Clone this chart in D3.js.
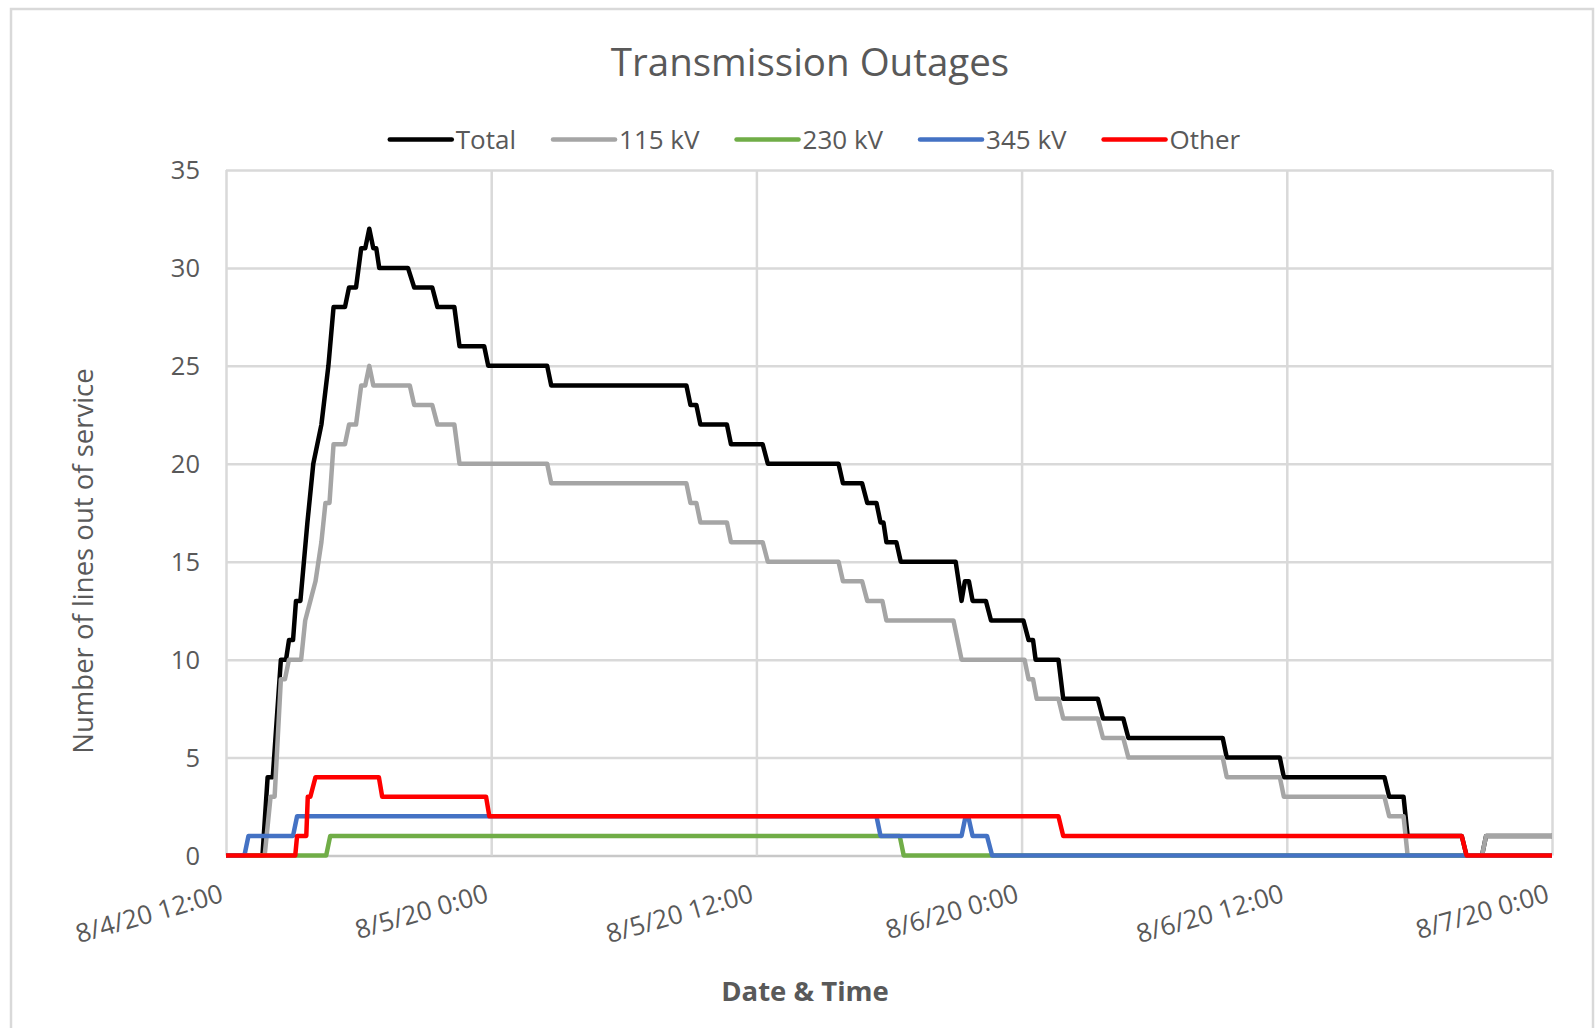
<!DOCTYPE html>
<html>
<head>
<meta charset="utf-8">
<script src="https://cdn.jsdelivr.net/npm/d3@7"></script>
<style>
  body { margin: 0; background: #fff; }
  text { font-family: "Open Sans", sans-serif; fill: #595959; }
</style>
</head>
<body>
<svg id="chart" width="1595" height="1028"></svg>
<script>
"use strict";

// Data
var seriesNames = ["Total", "115 kV", "230 kV", "345 kV", "Other"];
var seriesColours = ["#000000", "#a5a5a5", "#70ad47", "#4472c4", "#ff0000"];

var totalData = [
  ["8/4/20 12:00", 0], ["8/4/20 13:39", 0], ["8/4/20 13:53", 4], ["8/4/20 14:07", 4],
  ["8/4/20 14:29", 10], ["8/4/20 14:43", 10], ["8/4/20 14:51", 11], ["8/4/20 15:02", 11],
  ["8/4/20 15:10", 13], ["8/4/20 15:22", 13], ["8/4/20 15:41", 17], ["8/4/20 15:57", 20],
  ["8/4/20 16:19", 22], ["8/4/20 16:38", 25], ["8/4/20 16:52", 28], ["8/4/20 17:23", 28],
  ["8/4/20 17:34", 29], ["8/4/20 17:53", 29], ["8/4/20 18:07", 31], ["8/4/20 18:18", 31],
  ["8/4/20 18:29", 32], ["8/4/20 18:40", 31], ["8/4/20 18:48", 31], ["8/4/20 18:56", 30],
  ["8/4/20 20:14", 30], ["8/4/20 20:31", 29], ["8/4/20 21:20", 29], ["8/4/20 21:34", 28],
  ["8/4/20 22:20", 28], ["8/4/20 22:34", 26], ["8/4/20 23:41", 26], ["8/4/20 23:52", 25],
  ["8/5/20 2:32", 25], ["8/5/20 2:43", 24], ["8/5/20 8:50", 24], ["8/5/20 9:01", 23],
  ["8/5/20 9:17", 23], ["8/5/20 9:28", 22], ["8/5/20 10:40", 22], ["8/5/20 10:51", 21],
  ["8/5/20 12:17", 21], ["8/5/20 12:31", 20], ["8/5/20 15:43", 20], ["8/5/20 15:55", 19],
  ["8/5/20 16:47", 19], ["8/5/20 17:01", 18], ["8/5/20 17:26", 18], ["8/5/20 17:37", 17],
  ["8/5/20 17:45", 17], ["8/5/20 17:53", 16], ["8/5/20 18:20", 16], ["8/5/20 18:32", 15],
  ["8/5/20 21:01", 15], ["8/5/20 21:17", 13], ["8/5/20 21:26", 14], ["8/5/20 21:37", 14],
  ["8/5/20 21:47", 13], ["8/5/20 22:23", 13], ["8/5/20 22:37", 12], ["8/6/20 0:05", 12],
  ["8/6/20 0:19", 11], ["8/6/20 0:31", 11], ["8/6/20 0:38", 10], ["8/6/20 1:40", 10],
  ["8/6/20 1:53", 8], ["8/6/20 3:27", 8], ["8/6/20 3:41", 7], ["8/6/20 4:36", 7],
  ["8/6/20 4:50", 6], ["8/6/20 9:06", 6], ["8/6/20 9:17", 5], ["8/6/20 11:41", 5],
  ["8/6/20 11:52", 4], ["8/6/20 16:25", 4], ["8/6/20 16:38", 3], ["8/6/20 17:17", 3],
  ["8/6/20 17:28", 1], ["8/6/20 19:55", 1], ["8/6/20 20:08", 0], ["8/6/20 20:50", 0],
  ["8/6/20 21:01", 1], ["8/7/20 0:00", 1]
];

var kv115Data = [
  ["8/4/20 12:00", 0], ["8/4/20 13:45", 0], ["8/4/20 14:01", 3], ["8/4/20 14:12", 3],
  ["8/4/20 14:29", 9], ["8/4/20 14:40", 9], ["8/4/20 14:51", 10], ["8/4/20 15:24", 10],
  ["8/4/20 15:35", 12], ["8/4/20 15:49", 13], ["8/4/20 16:03", 14], ["8/4/20 16:19", 16],
  ["8/4/20 16:30", 18], ["8/4/20 16:41", 18], ["8/4/20 16:52", 21], ["8/4/20 17:23", 21],
  ["8/4/20 17:34", 22], ["8/4/20 17:53", 22], ["8/4/20 18:07", 24], ["8/4/20 18:18", 24],
  ["8/4/20 18:29", 25], ["8/4/20 18:40", 24], ["8/4/20 20:19", 24], ["8/4/20 20:31", 23],
  ["8/4/20 21:20", 23], ["8/4/20 21:34", 22], ["8/4/20 22:20", 22], ["8/4/20 22:34", 20],
  ["8/5/20 2:32", 20], ["8/5/20 2:43", 19], ["8/5/20 8:50", 19], ["8/5/20 9:01", 18],
  ["8/5/20 9:17", 18], ["8/5/20 9:28", 17], ["8/5/20 10:40", 17], ["8/5/20 10:51", 16],
  ["8/5/20 12:17", 16], ["8/5/20 12:31", 15], ["8/5/20 15:43", 15], ["8/5/20 15:55", 14],
  ["8/5/20 16:47", 14], ["8/5/20 17:01", 13], ["8/5/20 17:42", 13], ["8/5/20 17:53", 12],
  ["8/5/20 20:55", 12], ["8/5/20 21:17", 10], ["8/6/20 0:08", 10], ["8/6/20 0:19", 9],
  ["8/6/20 0:31", 9], ["8/6/20 0:41", 8], ["8/6/20 1:40", 8], ["8/6/20 1:53", 7],
  ["8/6/20 3:27", 7], ["8/6/20 3:41", 6], ["8/6/20 4:36", 6], ["8/6/20 4:50", 5],
  ["8/6/20 9:06", 5], ["8/6/20 9:17", 4], ["8/6/20 11:41", 4], ["8/6/20 11:52", 3],
  ["8/6/20 16:25", 3], ["8/6/20 16:38", 2], ["8/6/20 17:17", 2], ["8/6/20 17:28", 0],
  ["8/6/20 20:50", 0], ["8/6/20 21:01", 1], ["8/7/20 0:00", 1]
];

var kv230Data = [
  ["8/4/20 12:00", 0], ["8/4/20 16:32", 0], ["8/4/20 16:43", 1], ["8/5/20 18:29", 1],
  ["8/5/20 18:40", 0], ["8/7/20 0:00", 0]
];

var kv345Data = [
  ["8/4/20 12:00", 0], ["8/4/20 12:50", 0], ["8/4/20 13:01", 1], ["8/4/20 15:02", 1],
  ["8/4/20 15:13", 2], ["8/5/20 17:26", 2], ["8/5/20 17:37", 1], ["8/5/20 21:17", 1],
  ["8/5/20 21:28", 2], ["8/5/20 21:35", 2], ["8/5/20 21:47", 1], ["8/5/20 22:26", 1],
  ["8/5/20 22:40", 0], ["8/7/20 0:00", 0]
];

var otherData = [
  ["8/4/20 12:00", 0], ["8/4/20 15:08", 0], ["8/4/20 15:13", 1], ["8/4/20 15:38", 1],
  ["8/4/20 15:42", 3], ["8/4/20 15:49", 3], ["8/4/20 16:03", 4], ["8/4/20 18:55", 4],
  ["8/4/20 19:04", 3], ["8/4/20 23:46", 3], ["8/4/20 23:55", 2], ["8/6/20 1:40", 2],
  ["8/6/20 1:53", 1], ["8/6/20 19:55", 1], ["8/6/20 20:08", 0], ["8/7/20 0:00", 0]
];

var xTickLabels = ["8/4/20 12:00", "8/5/20 0:00", "8/5/20 12:00", "8/6/20 0:00", "8/6/20 12:00", "8/7/20 0:00"];
var yTicks = [0, 5, 10, 15, 20, 25, 30, 35];

window.onload = function() {
  var parse = d3.timeParse("%m/%d/%y %H:%M");
  var allSeries = [totalData, kv115Data, kv230Data, kv345Data, otherData];

  var svg = d3.select("#chart");
  var left = 226, right = 1552, top = 170, bottom = 855.5;
  var plotW = right - left, plotH = bottom - top;

  // Outer chart border
  svg.append("rect")
     .attr("x", 11).attr("y", 9)
     .attr("width", 1582).attr("height", 1040)
     .attr("fill", "none")
     .attr("stroke", "#d9d9d9")
     .attr("stroke-width", 2.5);

  var xTicks = xTickLabels.map(function(s) { return parse(s); });
  var x = d3.scaleTime()
            .domain([xTicks[0], xTicks[xTicks.length - 1]])
            .range([0, plotW]);
  var y = d3.scaleLinear().domain([0, 35]).range([plotH, 0]);

  var g = svg.append("g").attr("transform", "translate(" + left + "," + top + ")");

  // Y axis with horizontal gridlines
  var yAxis = g.append("g")
               .call(d3.axisLeft(y).tickValues(yTicks).tickSize(-plotW).tickPadding(26));
  yAxis.select(".domain").remove();
  yAxis.selectAll("line")
       .attr("stroke", function(d) { return d === 0 ? "#c8c8c8" : "#d9d9d9"; })
       .attr("stroke-width", 2.5);
  yAxis.selectAll("text")
       .attr("font-family", "Open Sans")
       .attr("font-size", 25.5)
       .attr("fill", "#595959")
       .attr("dy", "0.34em");

  // X axis with vertical gridlines and slanted labels
  var xAxis = g.append("g")
               .attr("transform", "translate(0," + plotH + ")")
               .call(d3.axisBottom(x).tickValues(xTicks).tickSize(-plotH)
                       .tickFormat(function(d, i) { return xTickLabels[i]; }));
  xAxis.select(".domain").remove();
  xAxis.selectAll("line")
       .attr("stroke", "#d9d9d9")
       .attr("stroke-width", 2.5);
  xAxis.selectAll("text")
       .attr("font-family", "Open Sans")
       .attr("font-size", 26)
       .attr("fill", "#595959")
       .attr("text-anchor", "end")
       .attr("x", -2)
       .attr("y", 46)
       .attr("dy", 0)
       .attr("transform", "rotate(-16,-2,46)");

  // Series lines
  var line = d3.line()
               .x(function(d) { return x(parse(d[0])); })
               .y(function(d) { return y(d[1]); });

  for (let i = 0; i < allSeries.length; i++) {
    g.append("path")
     .datum(allSeries[i])
     .attr("d", line)
     .attr("fill", "none")
     .attr("stroke", seriesColours[i])
     .attr("stroke-width", 4.5)
     .attr("stroke-linejoin", "round");
  }

  // Title
  svg.append("text")
     .attr("x", 810).attr("y", 76)
     .attr("text-anchor", "middle")
     .attr("font-size", 38.5)
     .text("Transmission Outages");

  // Legend
  var legend = svg.append("g");
  var lx = 0;
  for (let i = 0; i < seriesNames.length; i++) {
    legend.append("line")
          .attr("x1", lx + 2).attr("x2", lx + 64)
          .attr("y1", 139.5).attr("y2", 139.5)
          .attr("stroke", seriesColours[i])
          .attr("stroke-width", 4.5)
          .attr("stroke-linecap", "round");
    var t = legend.append("text")
                  .attr("x", lx + 68).attr("y", 148.5)
                  .attr("font-size", 26)
                  .text(seriesNames[i]);
    lx += 68 + t.node().getComputedTextLength() + 35;
  }
  var legendW = lx - 35;
  legend.attr("transform", "translate(" + (814 - legendW / 2) + ",0)");

  // Axis titles
  svg.append("text")
     .attr("transform", "translate(93,561) rotate(-90)")
     .attr("text-anchor", "middle")
     .attr("font-size", 27.5)
     .text("Number of lines out of service");

  svg.append("text")
     .attr("x", 805).attr("y", 1001)
     .attr("text-anchor", "middle")
     .attr("font-size", 27.5)
     .attr("font-weight", "bold")
     .text("Date & Time");
};
</script>
</body>
</html>
